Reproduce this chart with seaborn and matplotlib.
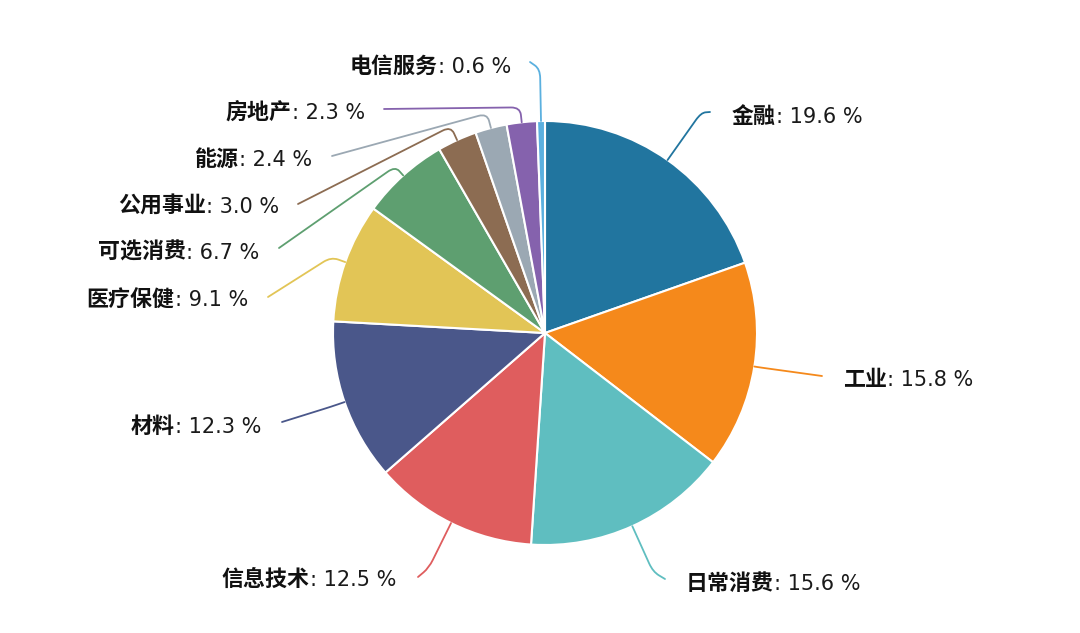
import numpy as np
import seaborn as sns
import matplotlib
matplotlib.use("Agg")
import matplotlib.pyplot as plt
from matplotlib.path import Path
from matplotlib.patches import PathPatch

# sector weights (%)
names = ['金融', '工业', '日常消费', '信息技术', '材料', '医疗保健',
         '可选消费', '公用事业', '能源', '房地产', '电信服务']
shares = [19.6, 15.8, 15.6, 12.5, 12.3, 9.1, 6.7, 3.0, 2.4, 2.3, 0.6]
colors = ['#21759f', '#f5891b', '#5fbec0', '#df5d5e', '#4a578a', '#e2c556',
          '#5e9f70', '#8c6c52', '#9ba8b3', '#8562ad', '#5bb0df']

# label layout in pixel coords (x, y from top), side of the anchor
label_pos = [(732, 117, 'L'), (843, 380, 'L'), (686, 584, 'L'), (396, 580, 'R'),
             (261, 427, 'R'), (248, 300, 'R'), (259, 253, 'R'), (279, 207, 'R'),
             (312, 160, 'R'), (365, 113, 'R'), (511, 67, 'R')]
line_ext = [58, 6, 50, 50, 14, 15, 12, 15, 15, 15, 52]
line_end = [(710, 112), (822, 376), (665, 579), (418, 577), (282, 422), (268, 297),
            (279, 248), (298, 204), (332, 156), (384, 109), (530, 62)]

sns.set_theme(style='white')
plt.rcParams['font.family'] = ['Noto Sans CJK SC', 'DejaVu Sans']

W, H = 1080, 633
fig = plt.figure(figsize=(W / 100, H / 100), dpi=100)
ax = fig.add_axes([0, 0, 1, 1])

cx, cy, r = 545, H - 333, 212
wedges, _ = ax.pie(shares, colors=colors, startangle=90, counterclock=False,
                   center=(cx, cy), radius=r,
                   wedgeprops=dict(edgecolor='white', linewidth=1.5))
ax.set_xlim(0, W)
ax.set_ylim(0, H)
ax.axis('off')


def leader(p0, p1, p2, color, rad=9):
    # straight - rounded corner - straight
    a = p1 + (p0 - p1) * min(rad / np.linalg.norm(p0 - p1), 0.5)
    b = p1 + (p2 - p1) * min(rad / np.linalg.norm(p2 - p1), 0.5)
    path = Path([p0, a, p1, b, p2],
                [Path.MOVETO, Path.LINETO, Path.CURVE3, Path.CURVE3, Path.LINETO])
    ax.add_patch(PathPatch(path, fill=False, edgecolor=color, lw=1.3,
                           capstyle='round', joinstyle='round'))


renderer = fig.canvas.get_renderer()
fs_name, fs_val = 15.8, 15

for i, w in enumerate(wedges):
    ang = np.deg2rad((w.theta1 + w.theta2) / 2)
    d = np.array([np.cos(ang), np.sin(ang)])
    p0 = np.array([cx, cy]) + r * d
    p1 = np.array([cx, cy]) + (r + line_ext[i]) * d
    p2 = np.array([line_end[i][0], H - line_end[i][1]], dtype=float)
    leader(p0, p1, p2, colors[i])

    x, y, side = label_pos[i]
    yb = H - (y + 6)
    value = f': {shares[i]:.1f} %'
    if side == 'L':
        t = ax.text(x, yb, names[i], fontsize=fs_name, fontweight='bold',
                    color='#111111', ha='left', va='baseline')
        wpx = t.get_window_extent(renderer).width
        ax.text(x + wpx, yb, value, fontsize=fs_val, color='#1a1a1a',
                family='DejaVu Sans', ha='left', va='baseline')
    else:
        t = ax.text(x, yb, value, fontsize=fs_val, color='#1a1a1a',
                    family='DejaVu Sans', ha='right', va='baseline')
        wpx = t.get_window_extent(renderer).width
        ax.text(x - wpx, yb, names[i], fontsize=fs_name, fontweight='bold',
                color='#111111', ha='right', va='baseline')

fig.savefig('out.png', dpi=100, facecolor='white')
